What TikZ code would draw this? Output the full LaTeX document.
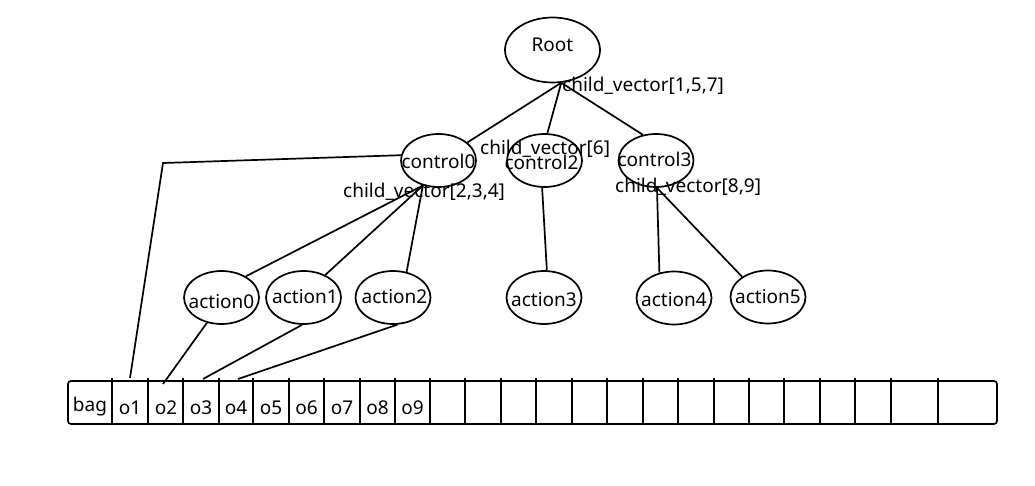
\documentclass[tikz,border=0pt]{standalone}
\usepackage{fontspec}
\setmainfont{Noto Sans}
\usetikzlibrary{shapes.geometric}
\newcommand{\zw}[1]{\makebox[0pt]{#1}}
\begin{document}
\begin{tikzpicture}[x=1pt,y=-1pt,
  every node/.style={font=\fontsize{19}{22}\selectfont},
  oval/.style={draw,ellipse,line width=1.7pt,inner sep=0pt,minimum width=75pt,minimum height=53pt,text depth=0pt,text height=#1},
  oval/.default=14pt,
  link/.style={line width=1.7pt},
  lbl/.style={anchor=base west,inner sep=0pt},
  cell/.style={anchor=base,inner sep=0pt}]
\useasboundingbox[fill=white] (0,0) rectangle (1035,486);
% tree nodes
\node[oval=4pt,minimum width=95pt,minimum height=65pt] (root) at (552.5,50) {\zw{Root}};
\node[oval=17pt] (c0) at (438.5,160.5) {\zw{control0}};
\node[oval=19pt] (c2) at (544.5,160.5) {\zw{\hspace{-6pt}control2}};
\node[oval=12.4pt] (c3) at (656,160.5) {\zw{\hspace{-3pt}control3}};
\node[oval=21pt] (a0) at (221.5,297.5) {\zw{action0}};
\node[oval=11.6pt] (a1) at (303.5,297.5) {\zw{\hspace{3pt}action1}};
\node[oval=11.6pt] (a2) at (393,297.5) {\zw{\hspace{3pt}action2}};
\node[oval=18.4pt] (a3) at (544,297.5) {\zw{action3}};
\node[oval=17.4pt] (a4) at (674,298) {\zw{action4}};
\node[oval=12.6pt] (a5) at (768,297) {\zw{action5}};
% labels
\node[lbl] (l157) at (562,92) {child\_vector[1,5,7]};
\node[lbl] (l6) at (480,155) {child\_vector[6]};
\node[lbl] (l234) at (343,198) {child\_vector[2,3,4]};
\node[lbl] (l89) at (615,193) {child\_vector[8,9]};
% bag
\node[draw,line width=1.7pt,rounded corners=3pt,minimum width=929pt,minimum height=43pt,inner sep=0pt] (bag) at (532.5,402.5) {};
\foreach \x in {112,148,183,219,253,289,324,360,395,430,465,501,536,572,607,643,678,714,749,784,820,855,891,938}
  \draw[line width=1.3pt] (\x,378) -- (\x,424);
\node[cell] (tbag) at (90,411) {bag};
\node[cell] (o1) at (130,414) {o1};
\node[cell] (o2) at (166,414) {o2};
\node[cell] (o3) at (201,414) {o3};
\node[cell] (o4) at (236,414) {o4};
\node[cell] (o5) at (271,414) {o5};
\node[cell] (o6) at (306.5,414) {o6};
\node[cell] (o7) at (342,414) {o7};
\node[cell] (o8) at (377.5,414) {o8};
\node[cell] (o9) at (412.5,414) {o9};
\coordinate (p1) at (130,378);
\coordinate (p2) at (163,384);
\coordinate (p3) at (203,379);
\coordinate (p4) at (238,379);
\coordinate (k1) at (163,163);
% connectors
\draw[link] (root.-75) -- (c0.32);
\draw[link] (root.-75) -- (c2.84);
\draw[link] (root.-75) -- (c3.117);
\draw[link] (c0.-122) -- (a0.41);
\draw[link] (c0.-122) -- (a1.46);
\draw[link] (c0.-122) -- (a2.62);
\draw[link] (c2.-95) -- (a3.84);
\draw[link] (c3.-88) -- (a4.120);
\draw[link] (c3.-88) -- (a5.142);
\draw[link] (c0.172) -- (k1) -- (p1);
\draw[link] (a0.-120) -- (p2);
\draw[link] (a1.-93) -- (p3);
\draw[link] (a2.-81) -- (p4);
\end{tikzpicture}
\end{document}
